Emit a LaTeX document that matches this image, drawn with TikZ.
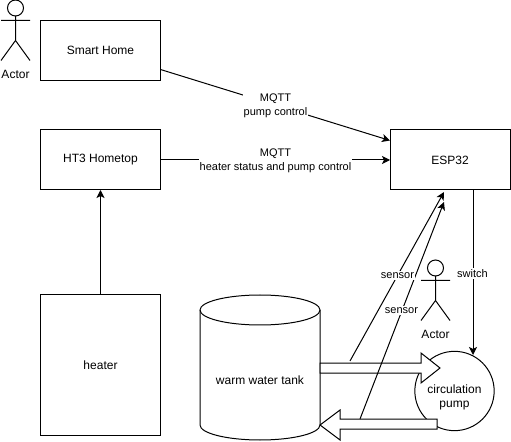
\documentclass[tikz,border=0pt]{standalone}
\usepackage{fontspec}
\setmainfont{Liberation Sans}
\usetikzlibrary{arrows.meta}
\usetikzlibrary{positioning}

\tikzset{
  box/.style={draw,rectangle,inner sep=0pt,outer sep=0pt,minimum width=90pt,font=\fontsize{9}{10.5}\selectfont,align=center},
  lbl/.style={fill=white,inner sep=0.8pt,font=\fontsize{8.25}{10.5}\selectfont,align=center},
  txt/.style={inner sep=0pt,font=\fontsize{9}{10.5}\selectfont,align=center},
  flow/.style={draw=black,fill=white,line width=0.75pt,line join=miter},
}

\begin{document}
\begin{tikzpicture}[x=0.75pt,y=-0.75pt,line width=0.75pt,>={Stealth[length=6pt,width=6pt,inset=1.5pt]}]

  \useasboundingbox (0,0) rectangle (511,442);

  \node [box,minimum height=45pt] (smart_home) at (100.5,50.5) {Smart Home};
  \node [box,minimum height=45pt] (ht3) at (100.5,160) {HT3 Hometop};
  \node [box,minimum height=45pt] (esp32) at (450,160) {ESP32};
  \node [box,minimum height=105pt] (heater) at (100.5,365) {heater};

  % tank
  \draw (200,310) arc (180:-180:60 and 15);
  \draw (200,310) -- (200,425) arc (180:0:60 and 15) -- (320,310);
  \node [txt] (tank) at (260,380) {warm water tank};

  % pump and the two flows over it
  \node [draw,circle,inner sep=0pt,outer sep=0pt,minimum size=59.5pt] (pump) at (454.5,391) {};
  \draw [flow] (320,363) -- (421,363) -- (421,353) -- (440,368) -- (421,383) -- (421,373) -- (320,373) -- cycle;
  \draw [flow] (437,419) -- (340,419) -- (340,410) -- (320,425) -- (340,440) -- (340,429) -- (437,429) -- cycle;
  \node [txt] (pump_text) at (454.5,397.5) {circulation\\[-0.2pt]pump};

  \coordinate (smart_out) at (160.5,69.5);
  \coordinate (mqtt_in_1) at (390,140.5);
  \coordinate (mqtt_in_2) at (390,160);
  \coordinate (sensor_from_1) at (350,361);
  \coordinate (sensor_from_2) at (360,419);
  \coordinate (sensor_to_1) at (444,192);
  \coordinate (sensor_to_2) at (444,202);
  \coordinate (switch_from) at (473,190);
  \coordinate (switch_to) at (473,355);

  \path [->]
    (heater)        edge (ht3)
    (smart_out)     edge (mqtt_in_1)
    (ht3.east)      edge (mqtt_in_2)
    (sensor_from_1) edge (sensor_to_1)
    (sensor_from_2) edge (sensor_to_2)
    (switch_from)   edge (switch_to);

  \node [lbl] (mqtt_pump) at (275.5,106) {MQTT\\pump control};
  \node [lbl] (mqtt_heater) at (275.5,161) {MQTT\\heater status and pump control};
  \node [lbl] (sensor_1) at (397.5,275.5) {sensor};
  \node [lbl] (sensor_2) at (401.5,310.5) {sensor};
  \node [lbl] (switch) at (472.5,273.5) {switch};

  % actors
  \draw (15.5,8) circle (8);
  \draw (1,20.5) -- (30,20.5) (15.5,16) -- (15.5,40.5) (1,60.5) -- (15.5,40.5) -- (30,60.5);
  \node [txt] (actor_1) at (15.5,74) {Actor};

  \draw (435.5,268) circle (8);
  \draw (421,280.5) -- (450,280.5) (435.5,276) -- (435.5,300.5) (421,320.5) -- (435.5,300.5) -- (450,320.5);
  \node [txt] (actor_2) at (435.5,334) {Actor};

\end{tikzpicture}
\end{document}
